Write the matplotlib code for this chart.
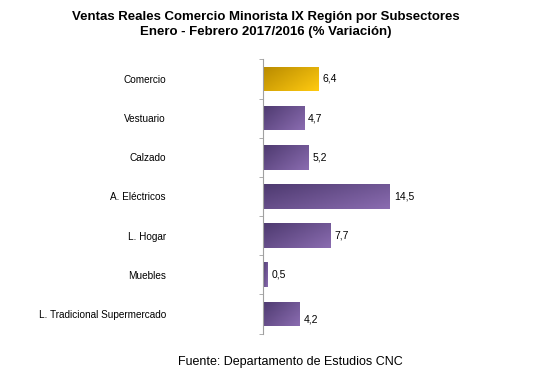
import numpy as np
import matplotlib
matplotlib.use("Agg")
import matplotlib.pyplot as plt
from matplotlib.colors import LinearSegmentedColormap

plt.rcParams['font.family'] = ['Liberation Sans', 'DejaVu Sans']

categorias = ["Comercio", "Vestuario", "Calzado", "A. Eléctricos",
              "L. Hogar", "Muebles", "L. Tradicional Supermercado"]
variacion = [6.4, 4.7, 5.2, 14.5, 7.7, 0.5, 4.2]
etiquetas = ["6,4", "4,7", "5,2", "14,5", "7,7", "0,5", "4,2"]
destacado = [True, False, False, False, False, False, False]

titulo = "Ventas Reales Comercio Minorista IX Región por Subsectores\nEnero - Febrero 2017/2016 (% Variación)"
fuente = "Fuente: Departamento de Estudios CNC"

morado = LinearSegmentedColormap.from_list("morado", ["#4e3a70", "#8a6cb0"])
dorado = LinearSegmentedColormap.from_list("dorado", ["#b88a00", "#ffca10"])

fig = plt.figure(figsize=(5.6, 3.76), dpi=100)
ax = fig.add_axes([0.4696, 0.113, 0.30, 0.729])

y = np.arange(len(categorias))
bars = ax.barh(y, variacion, height=0.63, color="none", edgecolor="none")

# degradado diagonal dentro de cada barra
gx, gy = np.meshgrid(np.linspace(0, 1, 60), np.linspace(0, 1, 20))
grad = (gx * 0.6 + gy * 0.4)
for b, dest in zip(bars, destacado):
    x0, y0 = b.get_x(), b.get_y()
    w, h = b.get_width(), b.get_height()
    im = ax.imshow(grad, cmap=dorado if dest else morado, aspect="auto",
                   extent=(x0, x0 + w, y0 + h, y0), origin="upper", zorder=2)
    im.set_clip_path(b)

for yi, v, t in zip(y, variacion, etiquetas):
    dy = 0.15 if yi == len(categorias) - 1 else 0
    ax.text(v + 0.45, yi + dy, t, va="center", ha="left", fontsize=7.5)

ax.set_xlim(0, 19.2)
ax.set_ylim(len(categorias) - 0.5, -0.5)
ax.set_yticks(y)
ax.set_yticklabels(categorias, fontsize=7.2)
ax.tick_params(axis="y", which="major", length=0, pad=70)
ax.set_yticks(np.arange(-0.5, len(categorias), 1), minor=True)
ax.tick_params(axis="y", which="minor", length=3, color="#a0a0a0", direction="out")
ax.set_xticks([])
for s in ["top", "right", "bottom"]:
    ax.spines[s].set_visible(False)
ax.spines["left"].set_color("#a0a0a0")
ax.spines["left"].set_linewidth(0.8)

fig.text(0.475, 0.935, titulo, ha="center", va="center", fontsize=9.5,
         fontweight="bold", linespacing=1.25)
fig.text(0.518, 0.037, fuente, ha="center", va="center", fontsize=9)

fig.savefig("out.png", dpi=100)
